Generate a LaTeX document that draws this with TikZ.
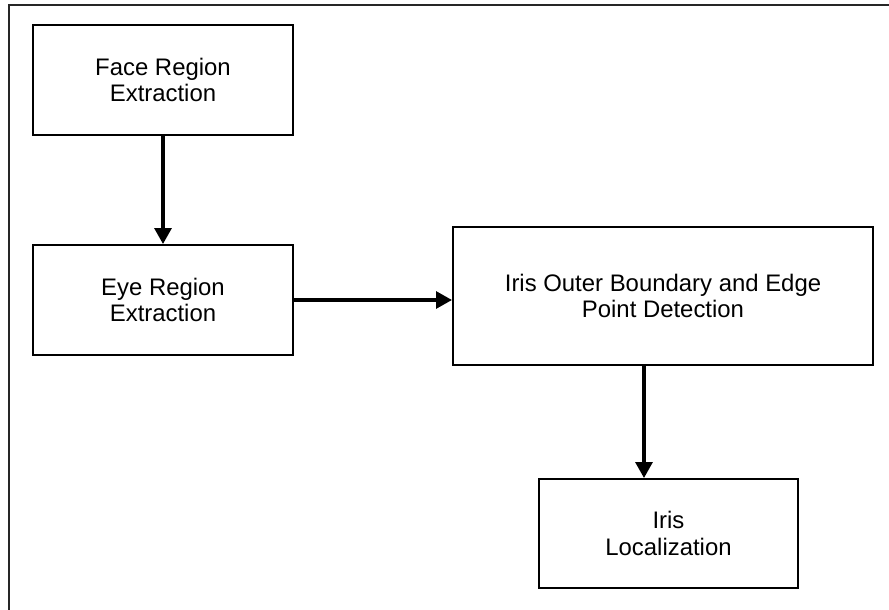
\documentclass[tikz,border=0pt]{standalone}
\usepackage{fontspec}
\setmainfont{Liberation Sans}
\usetikzlibrary{arrows.meta}

\begin{document}
\begin{tikzpicture}[x=0.025cm, y=-0.025cm,
    stage/.style={draw, line width=1.3pt, align=center, inner sep=0pt,
      font=\fontsize{17}{19}\selectfont},
    flow/.style={line width=2.5pt, -{Triangle[length=0.4cm, width=0.42cm]}}]
  \useasboundingbox (0,0) rectangle (889,610);
  % frame
  \draw[line width=1.3pt, black!85] (9,610) -- (9,5) -- (889,5);
  % stages
  \node[stage, minimum width=6.5cm, minimum height=2.75cm] (face) at (163,80) {Face Region\\Extraction};
  \node[stage, minimum width=6.5cm, minimum height=2.75cm] (eye) at (163,300) {Eye Region\\Extraction};
  \node[stage, minimum width=10.5cm, minimum height=3.45cm] (iris) at (663,296) {Iris Outer Boundary and Edge\\Point Detection};
  \node[stage, minimum width=6.475cm, minimum height=2.725cm] (loc) at (668.5,533.5) {Iris\\Localization};
  % connectors
  \draw[flow] (face.south) -- (eye.north);
  \draw[flow] (eye.east) -- (eye.east -| iris.west);
  \draw[flow] ([xshift=-0.475cm]iris.south) -- ([xshift=-0.475cm]iris.south |- loc.north);
\end{tikzpicture}
\end{document}
